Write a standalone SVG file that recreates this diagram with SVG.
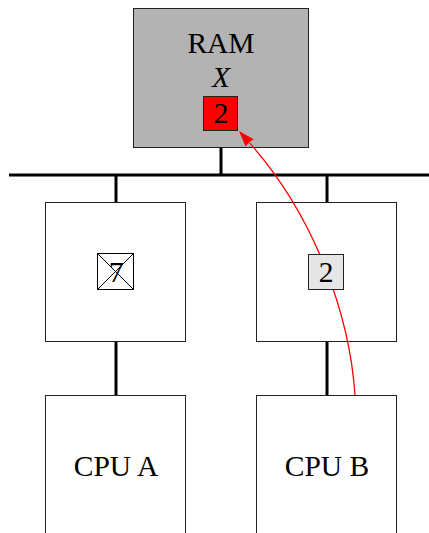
<svg xmlns="http://www.w3.org/2000/svg" width="429" height="533" viewBox="0 0 429 533">
<style>
.box{fill:#fff;stroke:#222;stroke-width:1}
.lbl{font-family:"Liberation Serif","DejaVu Serif",serif;font-size:29.5px;fill:#000;text-anchor:middle}
.wire{stroke:#000;stroke-width:3;fill:none}
</style>
<rect width="429" height="533" fill="#fff"/>
<g id="connectors">
<line class="wire" x1="9" y1="175" x2="429" y2="175"/>
<line class="wire" x1="221" y1="148" x2="221" y2="175"/>
<line class="wire" x1="116" y1="175" x2="116" y2="202"/>
<line class="wire" x1="327" y1="175" x2="327" y2="202"/>
<line class="wire" x1="116" y1="342" x2="116" y2="395"/>
<line class="wire" x1="327" y1="342" x2="327" y2="395"/>
</g>
<g id="ram">
<rect x="133.5" y="8.5" width="175" height="139" fill="#b3b3b3" stroke="#222" stroke-width="1"/>
<text class="lbl" x="221" y="53">RAM</text>
<text class="lbl" x="221" y="87" font-style="italic">X</text>
</g>
<g id="cacheA">
<rect class="box" x="45.5" y="202.5" width="140" height="139"/>
<rect x="97.5" y="253.5" width="36" height="36" fill="#fff" stroke="#000" stroke-width="1"/>
<line x1="97.5" y1="253.5" x2="133.5" y2="289.5" stroke="#000" stroke-width="1"/>
<line x1="133.5" y1="253.5" x2="97.5" y2="289.5" stroke="#000" stroke-width="1"/>
<text class="lbl" x="116" y="282" font-size="28">7</text>
</g>
<g id="cacheB">
<rect class="box" x="256.5" y="202.5" width="140" height="139"/>
</g>
<g id="cpuA">
<rect class="box" x="45.5" y="395.5" width="140" height="150"/>
<text class="lbl" x="116" y="476">CPU A</text>
</g>
<g id="cpuB">
<rect class="box" x="256.5" y="395.5" width="140" height="150"/>
<text class="lbl" x="327" y="476">CPU B</text>
</g>
<g id="arrow">
<path d="M355,395 C350,320 318,220 249.6,142.9" fill="none" stroke="#f00" stroke-width="1.3"/>
<path d="M239,131 L253.7,139.2 Q249,141.5 245.5,146.6 Z" fill="#f00"/>
</g>
<g id="valB">
<rect x="308.5" y="254.5" width="35" height="35" fill="#e6e6e6" stroke="#222" stroke-width="1"/>
<text class="lbl" x="326" y="282" font-size="28">2</text>
</g>
<g id="valRam">
<rect x="203.5" y="96.5" width="34" height="34" fill="#f00" stroke="#222" stroke-width="1"/>
<text class="lbl" x="221" y="123" font-size="28">2</text>
</g>
</svg>
